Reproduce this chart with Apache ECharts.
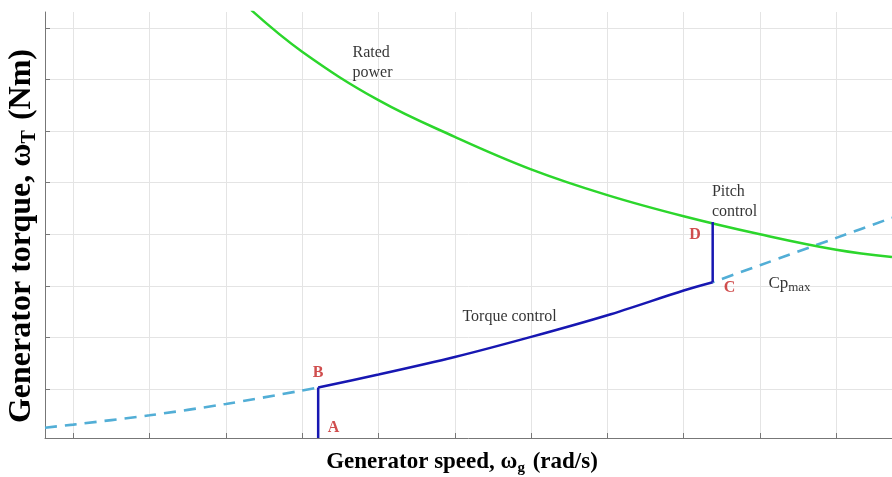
<!DOCTYPE html>
<html>
<head>
<meta charset="utf-8">
<script src="https://cdn.jsdelivr.net/npm/echarts@6/dist/echarts.min.js"></script>
<style>
  html, body { margin: 0; padding: 0; background: #ffffff; }
  #chart { width: 892px; height: 477px; }
</style>
</head>
<body>
<div id="chart"></div>
<script>
// Axis grid positions (speed / torque, in grid units; no numeric labels are drawn)
const speedTicks = [0, 1, 2, 3, 4, 5, 6, 7, 8, 9, 10];
const torqueTicks = [1, 2, 3, 4, 5, 6, 7, 8];

// Rated power curve
const ratedSpeed  = [2.33, 3, 4, 5, 6, 7, 8, 9, 10, 10.73];
const ratedTorque = [8.35, 7.54, 6.60, 5.89, 5.26, 4.76, 4.35, 4.00, 3.70, 3.56];

// Cp_max curve below point B and above point C (dashed)
const cpLowSpeed   = [-0.37, 0, 1, 2, 3, 3.21];
const cpLowTorque  = [0.25, 0.31, 0.49, 0.71, 0.97, 1.03];
const cpHighSpeed  = [8.38, 9, 10, 10.73];
const cpHighTorque = [3.07, 3.40, 3.93, 4.32];

// Torque-control segment B -> C
const torqueSpeed  = [3.21, 4, 5, 6, 7, 8, 8.38];
const torqueValues = [1.03, 1.28, 1.62, 2.01, 2.43, 2.91, 3.07];

// Operating points A, B, C, D
const pointNames  = ['A', 'B', 'C', 'D'];
const pointSpeed  = [3.21, 3.21, 8.38, 8.38];
const pointTorque = [0.05, 1.03, 3.07, 4.24];

const zip = (xs, ys) => xs.map((x, i) => [x, ys[i]]);

const serif = 'Liberation Serif, Times New Roman, serif';
const GREEN = '#2cd62c';
const BLUE = '#1717b2';
const LIGHTBLUE = '#52aed6';
const RED = '#c42222';

const chart = echarts.init(document.getElementById('chart'), null, { renderer: 'canvas' });

// Text annotations placed in data space
const notes = [
  { value: [3.66, 7.33], text: 'Rated\npower' },
  { value: [8.37, 4.63], text: 'Pitch\ncontrol' },
  { value: [5.10, 2.40], text: 'Torque control' },
  { value: [9.11, 3.04], text: '{n|Cp}{s|max}' }
];
const letterPositions = {
  A: [3.41, 0.25], B: [3.21, 1.32], C: [8.60, 2.96], D: [8.15, 3.99]
};

const titleRich = (size, subSize) => ({
  t: { fontFamily: serif, fontWeight: 'bold', fontSize: size, fill: '#000', lineHeight: size + 4 },
  s: { fontFamily: serif, fontWeight: 'bold', fontSize: subSize, fill: '#000', verticalAlign: 'bottom', lineHeight: subSize, padding: [0, 2, 0, 0] }
});

chart.setOption({
  animation: false,
  backgroundColor: '#ffffff',
  grid: { left: 45, right: 0, top: 12, bottom: 39, containLabel: false, outerBoundsMode: 'none' },
  graphic: [
    {
      type: 'text',
      x: 462, y: 462,
      silent: true,
      style: {
        text: '{t|Generator speed, ω}{s|g}{t| (rad/s)}',
        align: 'center',
        verticalAlign: 'middle',
        rich: titleRich(23, 15)
      }
    },
    {
      type: 'text',
      x: 22, y: 236,
      rotation: Math.PI / 2,
      silent: true,
      style: {
        text: '{t|Generator torque, ω}{s|T}{t| (Nm)}',
        align: 'center',
        verticalAlign: 'middle',
        rich: titleRich(32, 20)
      }
    }
  ],
  xAxis: {
    type: 'value',
    min: -0.37,
    max: 10.73,
    axisLine: { show: true, onZero: false, lineStyle: { color: '#777', width: 1 } },
    axisTick: { show: true, inside: true, length: 5, customValues: speedTicks, lineStyle: { color: '#777' } },
    axisLabel: { show: false },
    splitLine: { show: true, lineStyle: { color: '#e4e4e4', width: 1 } }
  },
  yAxis: {
    type: 'value',
    min: 0.05,
    max: 8.31,
    axisLine: { show: true, onZero: false, lineStyle: { color: '#777', width: 1 } },
    axisTick: { show: true, inside: true, length: 5, customValues: torqueTicks, lineStyle: { color: '#777' } },
    axisLabel: { show: false },
    splitLine: { show: true, lineStyle: { color: '#e4e4e4', width: 1 } }
  },
  series: [
    {
      name: 'Cp max low',
      type: 'line',
      data: zip(cpLowSpeed, cpLowTorque),
      smooth: 0.3,
      showSymbol: false,
      lineStyle: { color: LIGHTBLUE, width: 2.6, type: [12, 8] }
    },
    {
      name: 'Cp max high',
      type: 'line',
      data: zip(cpHighSpeed, cpHighTorque),
      smooth: 0.3,
      showSymbol: false,
      lineStyle: { color: LIGHTBLUE, width: 2.6, type: [12, 8], dashOffset: -10 }
    },
    {
      name: 'Rated power',
      type: 'line',
      data: zip(ratedSpeed, ratedTorque),
      smooth: 0.4,
      showSymbol: false,
      clip: true,
      lineStyle: { color: GREEN, width: 2.5 }
    },
    {
      name: 'A-B',
      type: 'line',
      data: [[pointSpeed[0], pointTorque[0]], [pointSpeed[1], pointTorque[1]]],
      showSymbol: false,
      lineStyle: { color: BLUE, width: 2.5 }
    },
    {
      name: 'Torque control',
      type: 'line',
      data: zip(torqueSpeed, torqueValues),
      smooth: 0.3,
      showSymbol: false,
      lineStyle: { color: BLUE, width: 2.5 }
    },
    {
      name: 'C-D',
      type: 'line',
      data: [[pointSpeed[2], pointTorque[2]], [pointSpeed[3], pointTorque[3]]],
      showSymbol: false,
      lineStyle: { color: BLUE, width: 2.5 }
    },
    {
      name: 'Notes',
      type: 'scatter',
      symbolSize: 0,
      silent: true,
      data: notes.map(n => ({
        value: n.value,
        label: {
          show: true,
          position: 'inside',
          align: 'left',
          verticalAlign: 'middle',
          formatter: n.text,
          fontFamily: serif,
          fontSize: 16,
          lineHeight: 20,
          color: '#000',
          rich: {
            n: { fontFamily: serif, fontSize: 17, color: '#000' },
            s: { fontFamily: serif, fontSize: 13, color: '#000', verticalAlign: 'bottom', lineHeight: 12 }
          }
        }
      }))
    },
    {
      name: 'Points',
      type: 'scatter',
      symbolSize: 0,
      silent: true,
      data: pointNames.map(p => ({
        value: letterPositions[p],
        label: {
          show: true,
          position: 'inside',
          formatter: p,
          fontFamily: serif,
          fontWeight: 'bold',
          fontSize: 16,
          color: RED
        }
      }))
    }
  ]
});
</script>
</body>
</html>
